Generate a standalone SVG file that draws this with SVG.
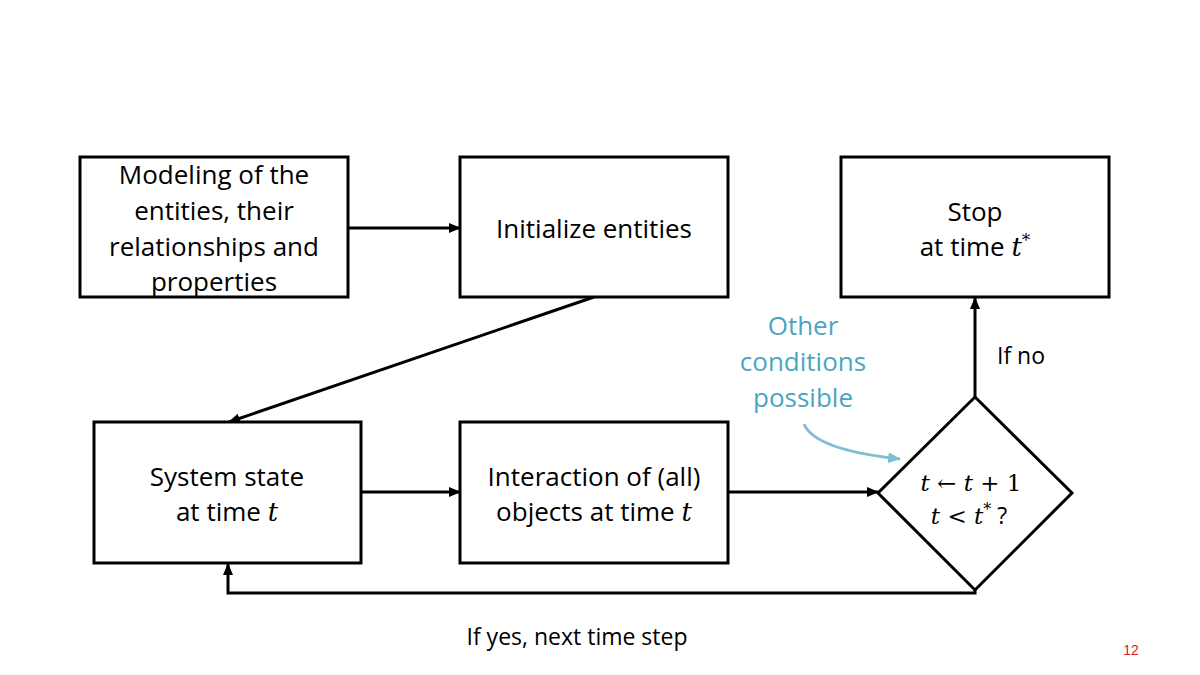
<svg xmlns="http://www.w3.org/2000/svg" width="1200" height="675" viewBox="0 0 1200 675">
<style>
.box{fill:#fff;stroke:#000;stroke-width:3}
.t{font-family:"Open Sans",Lato,sans-serif;font-size:26px;fill:#000;text-anchor:middle;font-variant-ligatures:none}
.l{font-family:"Open Sans",Lato,sans-serif;font-size:23px;fill:#000;text-anchor:middle}
.m{font-family:"DejaVu Serif","Liberation Serif",serif;font-style:italic}
.mu{font-family:"DejaVu Serif","Liberation Serif",serif;font-style:normal}
.c{stroke:#000;stroke-width:3;fill:none}
.blue{font-family:"Open Sans",Lato,sans-serif;font-size:26px;fill:#4BA5C0;text-anchor:middle}
</style>
<defs>
<marker id="ah" markerWidth="12" markerHeight="10" refX="11" refY="5" orient="auto" markerUnits="userSpaceOnUse">
<path d="M0,0 L12,5 L0,10 Z" fill="#000"/>
</marker>
<marker id="ahb" markerWidth="13" markerHeight="11" refX="12" refY="5.5" orient="auto" markerUnits="userSpaceOnUse">
<path d="M0,0 L13,5.5 L0,11 Z" fill="#7FBFD0"/>
</marker>
</defs>
<rect width="1200" height="675" fill="#fff"/>
<g id="connectors">
<line class="c" x1="348" y1="228" x2="460" y2="228" marker-end="url(#ah)"/>
<line class="c" x1="594" y1="297" x2="229" y2="422" marker-end="url(#ah)"/>
<line class="c" x1="361" y1="492" x2="460" y2="492" marker-end="url(#ah)"/>
<line class="c" x1="728" y1="492" x2="878" y2="492" marker-end="url(#ah)"/>
<line class="c" x1="975" y1="397" x2="975" y2="298" marker-end="url(#ah)"/>
<polyline class="c" points="975,590 975,593 228,593 228,564" marker-end="url(#ah)"/>
<path d="M804,424 Q815,450 900,459" fill="none" stroke="#7FBFD0" stroke-width="3" marker-end="url(#ahb)"/>
</g>
<g id="modeling">
<rect class="box" x="80" y="157" width="268" height="140"/>
<text class="t" x="214" y="184">Modeling of the</text>
<text class="t" x="214" y="220">entities, their</text>
<text class="t" x="214" y="256">relationships and</text>
<text class="t" x="214" y="291">properties</text>
</g>
<g id="init">
<rect class="box" x="460" y="157" width="268" height="140"/>
<text class="t" x="594" y="238">Initialize entities</text>
</g>
<g id="stop">
<rect class="box" x="841" y="157" width="268" height="140"/>
<text class="t" x="975" y="221">Stop</text>
<text class="t" x="975" y="256">at time <tspan class="m">t</tspan><tspan class="mu" font-size="17" dy="-10">*</tspan></text>
</g>
<g id="system">
<rect class="box" x="94" y="422" width="267" height="141"/>
<text class="t" x="227" y="486">System state</text>
<text class="t" x="227" y="521">at time <tspan class="m">t</tspan></text>
</g>
<g id="interaction">
<rect class="box" x="460" y="422" width="268" height="141"/>
<text class="t" x="594" y="486">Interaction of (all)</text>
<text class="t" x="594" y="521">objects at time <tspan class="m">t</tspan></text>
</g>
<g id="decision">
<polygon class="box" points="975,397 1072,493 975,590 878,493"/>
<text class="l" x="971" y="491"><tspan class="m">t</tspan><tspan class="mu"> ← </tspan><tspan class="m">t</tspan><tspan class="mu"> + 1</tspan></text>
<text class="l" x="969" y="524"><tspan class="m">t</tspan><tspan class="mu"> &lt; </tspan><tspan class="m">t</tspan><tspan class="mu" font-size="16" dy="-9">*</tspan><tspan dy="9"> ?</tspan></text>
</g>
<g id="note">
<text class="blue" x="803" y="335">Other</text>
<text class="blue" x="803" y="371">conditions</text>
<text class="blue" x="803" y="407">possible</text>
</g>
<text class="l" x="1021" y="364">If no</text>
<text class="l" x="577" y="645">If yes, next time step</text>
<text x="1131" y="655" font-family="Liberation Sans,Arial,sans-serif" font-size="14" fill="#E02020" text-anchor="middle">12</text>
</svg>
